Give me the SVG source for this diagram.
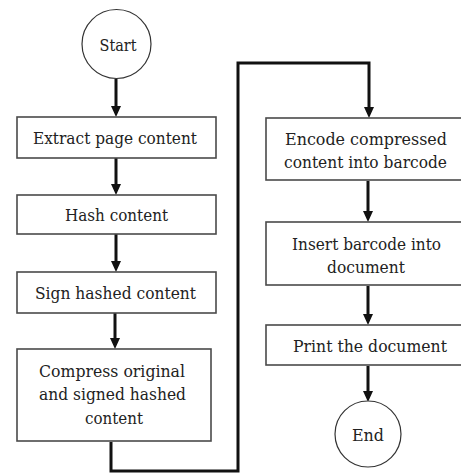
<svg xmlns="http://www.w3.org/2000/svg" width="461" height="474" viewBox="0 0 461 474">
  <defs>
    <style>
      .box { fill: #ffffff; stroke: #4a4a4a; stroke-width: 1.6; }
      .term { fill: #ffffff; stroke: #333333; stroke-width: 1.2; }
      .lbl { font-family: "DejaVu Serif", serif; font-size: 17px; fill: #222222; text-anchor: middle; }
      .wire { fill: none; stroke: #111111; stroke-width: 3; stroke-linejoin: miter; }
    </style>
    <!-- solid arrowhead; the tip sits 4px beyond the end of the line -->
    <marker id="head" viewBox="0 0 11 10" refX="7" refY="5" markerWidth="11" markerHeight="10" markerUnits="userSpaceOnUse" orient="auto">
      <path d="M0,0 L11,5 L0,10 z" fill="#111111"/>
    </marker>
  </defs>

  <rect width="461" height="474" fill="#ffffff"/>

  <!-- connectors -->
  <g id="connectors">
    <line class="wire" x1="116" y1="79" x2="116" y2="113" marker-end="url(#head)"/>
    <line class="wire" x1="116" y1="158" x2="116" y2="191" marker-end="url(#head)"/>
    <line class="wire" x1="116" y1="234" x2="116" y2="268" marker-end="url(#head)"/>
    <line class="wire" x1="115" y1="313" x2="115" y2="345" marker-end="url(#head)"/>
    <polyline class="wire" points="111,442 111,471 238,471 238,63 369,63 369,114" marker-end="url(#head)"/>
    <line class="wire" x1="368" y1="181" x2="368" y2="218" marker-end="url(#head)"/>
    <line class="wire" x1="368" y1="286" x2="368" y2="321" marker-end="url(#head)"/>
    <line class="wire" x1="368" y1="366" x2="368" y2="398" marker-end="url(#head)"/>
  </g>

  <g id="start">
    <circle class="term" cx="116.5" cy="44" r="34.5"/>
    <text class="lbl" x="118" y="50.5" textLength="37" lengthAdjust="spacingAndGlyphs">Start</text>
  </g>

  <g id="extract">
    <rect class="box" x="17" y="117" width="199" height="41"/>
    <text class="lbl" x="115" y="144" textLength="164" lengthAdjust="spacingAndGlyphs">Extract page content</text>
  </g>

  <g id="hash">
    <rect class="box" x="17" y="195" width="199" height="39"/>
    <text class="lbl" x="116.5" y="221" textLength="103" lengthAdjust="spacingAndGlyphs">Hash content</text>
  </g>

  <g id="sign">
    <rect class="box" x="17" y="272" width="199" height="41"/>
    <text class="lbl" x="115.5" y="298.5" textLength="161" lengthAdjust="spacingAndGlyphs">Sign hashed content</text>
  </g>

  <g id="compress">
    <rect class="box" x="17" y="349" width="194" height="92"/>
    <text class="lbl" x="112" y="376.5" textLength="146" lengthAdjust="spacingAndGlyphs">Compress original</text>
    <text class="lbl" x="112.5" y="400" textLength="147" lengthAdjust="spacingAndGlyphs">and signed hashed</text>
    <text class="lbl" x="114" y="424" textLength="58" lengthAdjust="spacingAndGlyphs">content</text>
  </g>

  <g id="encode">
    <rect class="box" x="266" y="118" width="204" height="62"/>
    <text class="lbl" x="366" y="144.5" textLength="162" lengthAdjust="spacingAndGlyphs">Encode compressed</text>
    <text class="lbl" x="365.5" y="167.5" font-size="16" textLength="163" lengthAdjust="spacingAndGlyphs">content into barcode</text>
  </g>

  <g id="insert">
    <rect class="box" x="266" y="222" width="204" height="63"/>
    <text class="lbl" x="366.5" y="249.5" textLength="149" lengthAdjust="spacingAndGlyphs">Insert barcode into</text>
    <text class="lbl" x="366" y="272.5" textLength="78" lengthAdjust="spacingAndGlyphs">document</text>
  </g>

  <g id="print">
    <rect class="box" x="266" y="325" width="204" height="40"/>
    <text class="lbl" x="370" y="351.5" textLength="154" lengthAdjust="spacingAndGlyphs">Print the document</text>
  </g>

  <g id="end">
    <circle class="term" cx="368" cy="434" r="33"/>
    <text class="lbl" x="368" y="440.5" textLength="32" lengthAdjust="spacingAndGlyphs">End</text>
  </g>
</svg>
